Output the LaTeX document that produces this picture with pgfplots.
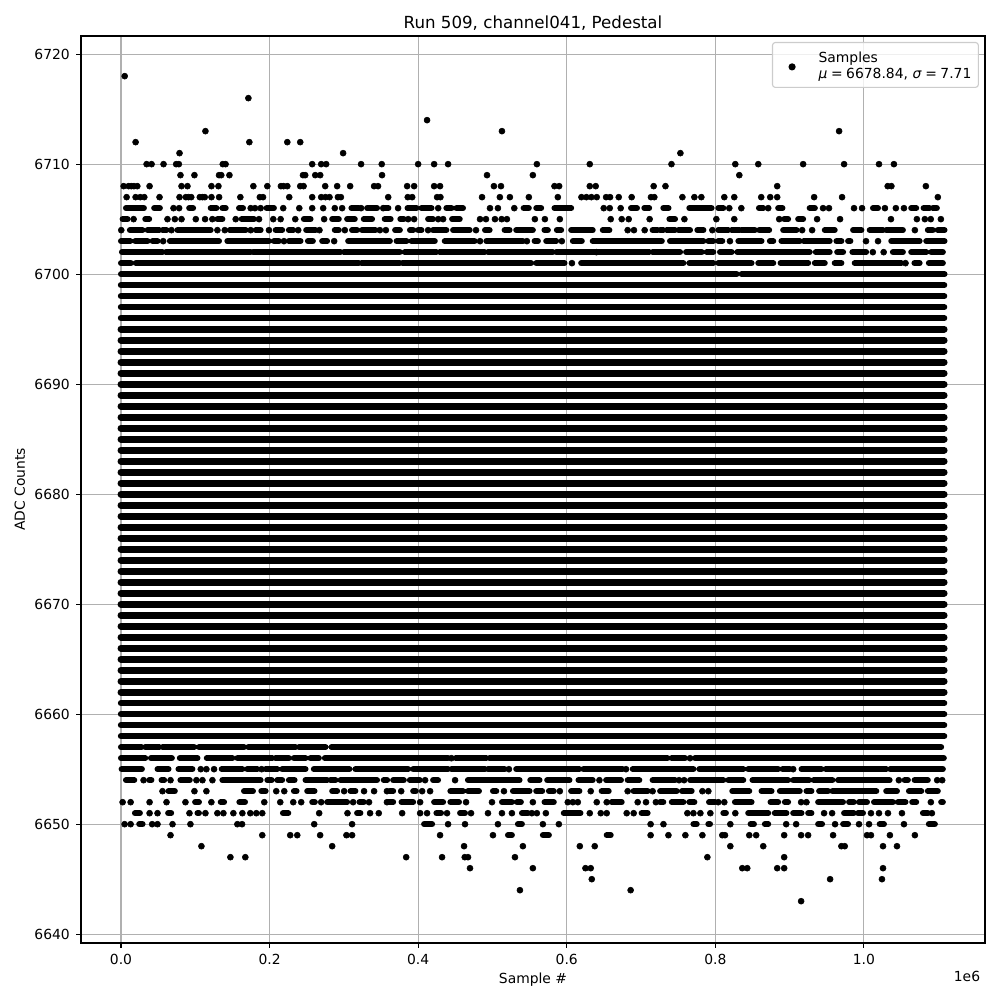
\documentclass[border=0pt]{standalone}
\usepackage{pgfplots}
\pgfplotsset{compat=1.18}
\usepackage{fontspec}
\setmainfont{DejaVu Sans}
\definecolor{gridc}{HTML}{B0B0B0}
\pgfplotsset{
  dots/.style={only marks,mark=*,mark size=2.16pt,black,mark options={draw=none,fill=black},forget plot},
  run/.style={black,line width=4.32pt,line cap=round,no marks,forget plot,unbounded coords=jump},
  edge/.style={run,line width=4.55pt},
  full/.style={run,line width=4.95pt}
}
\begin{document}
\begin{tikzpicture}
\path (-58.32pt,-41.04pt) rectangle (661.68pt,678.96pt);
\begin{axis}[
  at={(0,0)},anchor=south west,
  scale only axis,width=650.88pt,height=653.04pt,
  xmin=-53800,xmax=1163000,ymin=6639.2,ymax=6721.65,
  xtick={0,200000,400000,600000,800000,1000000},
  xticklabels={0.0,0.2,0.4,0.6,0.8,1.0},
  scaled x ticks=false,
  ytick={6640,6650,6660,6670,6680,6690,6700,6710,6720},
  /pgf/number format/.cd,1000 sep={},assume math mode=true,/pgfplots/.cd,
  xtick pos=bottom,ytick pos=left,tick align=outside,
  major tick length=3.5pt,
  tick style={black,line width=0.8pt},
  axis line style={line width=0.8pt},
  grid=major,grid style={gridc,line width=0.8pt},
  tick label style={font=\fontsize{10}{12}\selectfont},
  xticklabel style={yshift=-1pt},
  yticklabel style={xshift=-1pt},
  title={Run 509, channel041, Pedestal},
  title style={font=\fontsize{12}{14}\selectfont,yshift=-5.6pt},
  xlabel={Sample \#},ylabel={ADC Counts},
  xlabel style={yshift=0.7pt},
  label style={font=\fontsize{10}{12}\selectfont},
  legend cell align=left,
  legend image code/.code={\fill[black,fill opacity=1] (0cm,-1.4pt) circle (2.16pt);\path (-10.7pt,0pt) (16.7pt,0pt);},
  legend style={at={(1,1)},anchor=north east,xshift=-4.4pt,yshift=-4.3pt,
    draw=black!20,line width=0.8pt,fill=white,fill opacity=0.8,text opacity=1,
    rounded corners=2pt,font=\fontsize{10}{12}\selectfont,inner xsep=3pt,inner ysep=7.4pt},
  extra description/.code={\node[anchor=base east,font=\fontsize{10}{12}\selectfont,yshift=-27.4pt] at (1,0) {1e6};},
]
% --- isolated samples, upper tail
\addplot[only marks,mark=*,mark size=2.16pt,black,mark options={draw=none,fill=black}] coordinates {
(5e3,6718)(171.5e3,6716)(412e3,6714)(113.7e3,6713)(512.8e3,6713)(966.6e3,6713)
(19.7e3,6712)(172.8e3,6712)(223.9e3,6712)(241.3e3,6712)
(78.8e3,6711)(299e3,6711)(753e3,6711)
};
\addlegendentry{\raisebox{1.2pt}[12pt][12pt]{\begin{tabular}{@{}l@{}}Samples\\ \textit{μ}\hspace{-0.6pt} = \hspace{-0.6pt}6678.84, \textit{σ}\hspace{-0.6pt} = \hspace{-0.6pt}7.71\end{tabular}}}
\addplot[dots] coordinates {(34.5e3,6710)(41.2e3,6710)(57.3e3,6710)(74.3e3,6710)(77.9e3,6710)(137e3,6710)(140.8e3,6710)(257.4e3,6710)(269.5e3,6710)(276.2e3,6710)(323.2e3,6710)(351e3,6710)(400e3,6710)(421.5e3,6710)(440.3e3,6710)(559.8e3,6710)(631e3,6710)(741e3,6710)(826.9e3,6710)(857.8e3,6710)(918.2e3,6710)(973.3e3,6710)(1020.3e3,6710)(1040.4e3,6710)};
\addplot[dots] coordinates {(80.1e3,6709)(98.9e3,6709)(132e3,6709)(135e3,6709)(146e3,6709)(245e3,6709)(248e3,6709)(261.5e3,6709)(268.2e3,6709)(351.4e3,6709)(492.7e3,6709)(554.4e3,6709)(832.3e3,6709)};
\addplot[dots] coordinates {(3.6e3,6708)(10.3e3,6708)(13.9e3,6708)(17.5e3,6708)(22e3,6708)(38.5e3,6708)(81.5e3,6708)(89.5e3,6708)(121.8e3,6708)(131.2e3,6708)(178.2e3,6708)(197e3,6708)(215.3e3,6708)(218.9e3,6708)(223.9e3,6708)(241.3e3,6708)(245.8e3,6708)(274.9e3,6708)(291e3,6708)(308.5e3,6708)(340.7e3,6708)(346e3,6708)(385.2e3,6708)(394.6e3,6708)(421.5e3,6708)(429.5e3,6708)(502e3,6708)(511.5e3,6708)(583.5e3,6708)(589.8e3,6708)(631e3,6708)(639e3,6708)(717e3,6708)(732.9e3,6708)(883.3e3,6708)(1032e3,6708)(1037e3,6708)(1083.4e3,6708)};
\addplot[dots] coordinates {(7.6e3,6707)(19.7e3,6707)(26e3,6707)(31.4e3,6707)(51.9e3,6707)(78.8e3,6707)(87.3e3,6707)(90.9e3,6707)(94.6e3,6707)(106.1e3,6707)(109.7e3,6707)(112.8e3,6707)(121.8e3,6707)(132.1e3,6707)(160.7e3,6707)(186.9e3,6707)(191.2e3,6707)(226.5e3,6707)(257.4e3,6707)(269.5e3,6707)(275.3e3,6707)(280.7e3,6707)(292e3,6707)(296e3,6707)(359.7e3,6707)(386e3,6707)(392e3,6707)(425.5e3,6707)(430e3,6707)(486e3,6707)(510e3,6707)(523.5e3,6707)(549e3,6707)(588e3,6707)(619.8e3,6707)(626.5e3,6707)(633.2e3,6707)(640.4e3,6707)(653e3,6707)(658.3e3,6707)(670e3,6707)(687.4e3,6707)(713.4e3,6707)(717.9e3,6707)(755.7e3,6707)(771.8e3,6707)(781.2e3,6707)(812.1e3,6707)(825.5e3,6707)(861.8e3,6707)(873.9e3,6707)(883.3e3,6707)(933e3,6707)(970.6e3,6707)(1099.5e3,6707)};
\addplot[dots] coordinates {(70.7e3,6706)(78.3e3,6706)(174.6e3,6706)(180.4e3,6706)(188e3,6706)(218.4e3,6706)(240e3,6706)(257.4e3,6706)(272.2e3,6706)(287.8e3,6706)(297.7e3,6706)(323.2e3,6706)(353e3,6706)(373e3,6706)(427e3,6706)(496.7e3,6706)(507.4e3,6706)(529.4e3,6706)(649.8e3,6706)(657.9e3,6706)(672.6e3,6706)(818.8e3,6706)(835e3,6706)(871.2e3,6706)(945e3,6706)(953e3,6706)(986.7e3,6706)(997.5e3,6706)(1028.3e3,6706)(1043e3,6706)(1053.9e3,6706)};
\addplot[dots] coordinates {(17e3,6705)(62.6e3,6705)(72.5e3,6705)(81.5e3,6705)(100.7e3,6705)(113.2e3,6705)(123e3,6705)(154.4e3,6705)(185.8e3,6705)(205e3,6705)(214.9e3,6705)(234.6e3,6705)(273.5e3,6705)(386.6e3,6705)(394.6e3,6705)(427e3,6705)(433.6e3,6705)(483.3e3,6705)(491.3e3,6705)(503.4e3,6705)(512.4e3,6705)(519.5e3,6705)(557.1e3,6705)(570.6e3,6705)(590.7e3,6705)(659.2e3,6705)(674e3,6705)(683.4e3,6705)(711.6e3,6705)(758.4e3,6705)(801.4e3,6705)(825.5e3,6705)(886e3,6705)(937e3,6705)(967.9e3,6705)(1036.4e3,6705)(1071.3e3,6705)(1082e3,6705)(1090e3,6705)(1103.6e3,6705)};
\addplot[dots] coordinates {(0.4e3,6704)(68e3,6704)(129.8e3,6704)(139.7e3,6704)(174.6e3,6704)(199.2e3,6704)(238.6e3,6704)(267.2e3,6704)(301.3e3,6704)(348.5e3,6704)(356.6e3,6704)(413.4e3,6704)(477.9e3,6704)(682e3,6704)(690.5e3,6704)(704.9e3,6704)(796e3,6704)(916.9e3,6704)(930.3e3,6704)(1068.6e3,6704)};
\addplot[dots] coordinates {(56.8e3,6703)(219.4e3,6703)(287e3,6703)(483.3e3,6703)(546.4e3,6703)(593.4e3,6703)(819.7e3,6703)(1002.8e3,6703)(1019e3,6703)};
\addplot[dots] coordinates {(640e3,6702)(1012e3,6702)(1026.6e3,6702)};
\addplot[dots] coordinates {(607e3,6701)(1056e3,6701)};
% --- runs of adjacent samples, upper rows
\addplot[run] coordinates {(6.7e3,6706)(30.9e3,6706)(0,nan)(44.7e3,6706)(52.4e3,6706)(0,nan)(91.8e3,6706)(97.1e3,6706)(0,nan)(120.8e3,6706)(128.5e3,6706)(0,nan)(136.5e3,6706)(141e3,6706)(0,nan)(158.9e3,6706)(164.3e3,6706)(0,nan)(196e3,6706)(205.9e3,6706)(0,nan)(310.2e3,6706)(320e3,6706)(0,nan)(331.3e3,6706)(344.7e3,6706)(0,nan)(354e3,6706)(360e3,6706)(0,nan)(385.7e3,6706)(397.7e3,6706)(0,nan)(404.5e3,6706)(418e3,6706)(0,nan)(438e3,6706)(445e3,6706)(0,nan)(451.5e3,6706)(460.4e3,6706)(0,nan)(542e3,6706)(549e3,6706)(0,nan)(559e3,6706)(565.6e3,6706)(0,nan)(583.5e3,6706)(606e3,6706)(0,nan)(686.5e3,6706)(694.6e3,6706)(0,nan)(704.4e3,6706)(711e3,6706)(0,nan)(730e3,6706)(737e3,6706)(0,nan)(765e3,6706)(795e3,6706)(0,nan)(804e3,6706)(810.8e3,6706)(0,nan)(858.7e3,6706)(864.5e3,6706)(0,nan)(884.6e3,6706)(890.4e3,6706)(0,nan)(927e3,6706)(934e3,6706)(0,nan)(1012.2e3,6706)(1019e3,6706)(0,nan)(1063.7e3,6706)(1070.4e3,6706)(0,nan)(1080.3e3,6706)(1088.3e3,6706)(0,nan)(1092.8e3,6706)(1098.2e3,6706)};
\addplot[run] coordinates {(2.2e3,6705)(8.9e3,6705)(0,nan)(32.7e3,6705)(38e3,6705)(0,nan)(129.8e3,6705)(136.5e3,6705)(0,nan)(162.5e3,6705)(179e3,6705)(0,nan)(246.2e3,6705)(255.2e3,6705)(0,nan)(284.3e3,6705)(293.2e3,6705)(0,nan)(304.4e3,6705)(314.7e3,6705)(0,nan)(326.8e3,6705)(338e3,6705)(0,nan)(355e3,6705)(363e3,6705)(0,nan)(376e3,6705)(380.7e3,6705)(0,nan)(413.4e3,6705)(420e3,6705)(0,nan)(445.7e3,6705)(456e3,6705)(0,nan)(738.2e3,6705)(745.8e3,6705)(0,nan)(892.7e3,6705)(898e3,6705)(0,nan)(911.5e3,6705)(918.2e3,6705)};
\addplot[run] coordinates {(12e3,6704)(29e3,6704)(0,nan)(35.8e3,6704)(51.5e3,6704)(0,nan)(56e3,6704)(61.3e3,6704)(0,nan)(76e3,6704)(120.8e3,6704)(0,nan)(146.4e3,6704)(167.9e3,6704)(0,nan)(181.3e3,6704)(188e3,6704)(0,nan)(208.2e3,6704)(217e3,6704)(0,nan)(226e3,6704)(231.9e3,6704)(0,nan)(249.3e3,6704)(261.9e3,6704)(0,nan)(287.8e3,6704)(293.2e3,6704)(0,nan)(311e3,6704)(317.8e3,6704)(0,nan)(324.5e3,6704)(342.5e3,6704)(0,nan)(369e3,6704)(375.4e3,6704)(0,nan)(389e3,6704)(393.3e3,6704)(0,nan)(400e3,6704)(404.5e3,6704)(0,nan)(420e3,6704)(438e3,6704)(0,nan)(447e3,6704)(469.4e3,6704)(0,nan)(490e3,6704)(496.2e3,6704)(0,nan)(516.4e3,6704)(523.1e3,6704)(0,nan)(532e3,6704)(554.4e3,6704)(0,nan)(570e3,6704)(574.6e3,6704)(0,nan)(586.7e3,6704)(592.5e3,6704)(0,nan)(606e3,6704)(635e3,6704)(0,nan)(648.5e3,6704)(657.4e3,6704)(0,nan)(715.6e3,6704)(722.3e3,6704)(0,nan)(725.7e3,6704)(730e3,6704)(0,nan)(734.7e3,6704)(745.8e3,6704)(0,nan)(750.3e3,6704)(766e3,6704)(0,nan)(775.8e3,6704)(784e3,6704)(0,nan)(804e3,6704)(817.5e3,6704)(0,nan)(822e3,6704)(833e3,6704)(0,nan)(835.4e3,6704)(853.3e3,6704)(0,nan)(859e3,6704)(872.5e3,6704)(0,nan)(891.3e3,6704)(909.3e3,6704)(0,nan)(947.3e3,6704)(960.7e3,6704)(0,nan)(985.4e3,6704)(996.6e3,6704)(0,nan)(1007.8e3,6704)(1025.7e3,6704)(0,nan)(1030e3,6704)(1052.5e3,6704)(0,nan)(1086e3,6704)(1092.8e3,6704)(0,nan)(1099.5e3,6704)(1108.5e3,6704)};
\addplot[run] coordinates {(0,6703)(12.5e3,6703)(0,nan)(19.2e3,6703)(35.8e3,6703)(0,nan)(42.5e3,6703)(49.2e3,6703)(0,nan)(65.8e3,6703)(132e3,6703)(0,nan)(143.2e3,6703)(199.2e3,6703)(0,nan)(205.9e3,6703)(212.6e3,6703)(0,nan)(226e3,6703)(241.7e3,6703)(0,nan)(251.6e3,6703)(258.3e3,6703)(0,nan)(270.8e3,6703)(277.5e3,6703)(0,nan)(305.8e3,6703)(362e3,6703)(0,nan)(371e3,6703)(384.3e3,6703)(0,nan)(391e3,6703)(422.4e3,6703)(0,nan)(435.8e3,6703)(476e3,6703)(0,nan)(491.8e3,6703)(541e3,6703)(0,nan)(556.7e3,6703)(561.2e3,6703)(0,nan)(572.4e3,6703)(585.8e3,6703)(0,nan)(608.2e3,6703)(620.3e3,6703)(0,nan)(635e3,6703)(728e3,6703)(0,nan)(739e3,6703)(784e3,6703)(0,nan)(790.6e3,6703)(797.3e3,6703)(0,nan)(804e3,6703)(809.4e3,6703)(0,nan)(831e3,6703)(862.2e3,6703)(0,nan)(873.4e3,6703)(878e3,6703)(0,nan)(889e3,6703)(913.7e3,6703)(0,nan)(919e3,6703)(954e3,6703)(0,nan)(963e3,6703)(969.7e3,6703)(0,nan)(978.7e3,6703)(981.8e3,6703)(0,nan)(1036.8e3,6703)(1075e3,6703)(0,nan)(1083.9e3,6703)(1108.5e3,6703)};
\addplot[run] coordinates {(1.3e3,6702)(56e3,6702)(0,nan)(60.4e3,6702)(174.6e3,6702)(0,nan)(177.7e3,6702)(295.5e3,6702)(0,nan)(300e3,6702)(375.4e3,6702)(0,nan)(382e3,6702)(424.6e3,6702)(0,nan)(429e3,6702)(489.5e3,6702)(0,nan)(494e3,6702)(581.3e3,6702)(0,nan)(585.8e3,6702)(711e3,6702)(0,nan)(715.6e3,6702)(752.6e3,6702)(0,nan)(760.6e3,6702)(781.7e3,6702)(0,nan)(788.4e3,6702)(797.3e3,6702)(0,nan)(806.3e3,6702)(822e3,6702)(0,nan)(829.6e3,6702)(927e3,6702)(0,nan)(935.2e3,6702)(954e3,6702)(0,nan)(964e3,6702)(972e3,6702)(0,nan)(984.5e3,6702)(1003e3,6702)(0,nan)(1039e3,6702)(1052.5e3,6702)(0,nan)(1063.7e3,6702)(1083.9e3,6702)(0,nan)(1090.6e3,6702)(1106.3e3,6702)};
\addplot[run] coordinates {(0,6701)(13.4e3,6701)(0,nan)(20e3,6701)(320e3,6701)(0,nan)(323.7e3,6701)(375.4e3,6701)(0,nan)(379e3,6701)(552e3,6701)(0,nan)(559e3,6701)(597e3,6701)(0,nan)(619.4e3,6701)(757e3,6701)(0,nan)(765e3,6701)(797.3e3,6701)(0,nan)(804e3,6701)(848.8e3,6701)(0,nan)(857.8e3,6701)(878e3,6701)(0,nan)(887.8e3,6701)(925e3,6701)(0,nan)(933.9e3,6701)(947.3e3,6701)(0,nan)(960.7e3,6701)(969.7e3,6701)(0,nan)(987.6e3,6701)(1050.3e3,6701)(0,nan)(1068e3,6701)(1075e3,6701)(0,nan)(1087.4e3,6701)(1106.3e3,6701)};
\addplot[run] coordinates {(0,6700)(828.7e3,6700)(0,nan)(835.4e3,6700)(1108.5e3,6700)};
% --- solid rows
\addplot[edge] coordinates {(0,6699)(1108e3,6699)};
\addplot[edge] coordinates {(0,6698)(1108e3,6698)};
\addplot[edge] coordinates {(0,6697)(1108e3,6697)};
\addplot[edge] coordinates {(0,6696)(1108e3,6696)};
\addplot[full] coordinates {(0,6695)(1108e3,6695)};
\addplot[full] coordinates {(0,6694)(1108e3,6694)};
\addplot[full] coordinates {(0,6693)(1108e3,6693)};
\addplot[full] coordinates {(0,6692)(1108e3,6692)};
\addplot[full] coordinates {(0,6691)(1108e3,6691)};
\addplot[full] coordinates {(0,6690)(1108e3,6690)};
\addplot[full] coordinates {(0,6689)(1108e3,6689)};
\addplot[full] coordinates {(0,6688)(1108e3,6688)};
\addplot[full] coordinates {(0,6687)(1108e3,6687)};
\addplot[full] coordinates {(0,6686)(1108e3,6686)};
\addplot[full] coordinates {(0,6685)(1108e3,6685)};
\addplot[full] coordinates {(0,6684)(1108e3,6684)};
\addplot[full] coordinates {(0,6683)(1108e3,6683)};
\addplot[full] coordinates {(0,6682)(1108e3,6682)};
\addplot[full] coordinates {(0,6681)(1108e3,6681)};
\addplot[full] coordinates {(0,6680)(1108e3,6680)};
\addplot[full] coordinates {(0,6679)(1108e3,6679)};
\addplot[full] coordinates {(0,6678)(1108e3,6678)};
\addplot[full] coordinates {(0,6677)(1108e3,6677)};
\addplot[full] coordinates {(0,6676)(1108e3,6676)};
\addplot[full] coordinates {(0,6675)(1108e3,6675)};
\addplot[full] coordinates {(0,6674)(1108e3,6674)};
\addplot[full] coordinates {(0,6673)(1108e3,6673)};
\addplot[full] coordinates {(0,6672)(1108e3,6672)};
\addplot[full] coordinates {(0,6671)(1108e3,6671)};
\addplot[full] coordinates {(0,6670)(1108e3,6670)};
\addplot[full] coordinates {(0,6669)(1108e3,6669)};
\addplot[full] coordinates {(0,6668)(1108e3,6668)};
\addplot[full] coordinates {(0,6667)(1108e3,6667)};
\addplot[full] coordinates {(0,6666)(1108e3,6666)};
\addplot[full] coordinates {(0,6665)(1108e3,6665)};
\addplot[full] coordinates {(0,6664)(1108e3,6664)};
\addplot[full] coordinates {(0,6663)(1108e3,6663)};
\addplot[full] coordinates {(0,6662)(1108e3,6662)};
\addplot[edge] coordinates {(0,6661)(1108e3,6661)};
\addplot[edge] coordinates {(0,6660)(1108e3,6660)};
\addplot[edge] coordinates {(0,6659)(1108e3,6659)};
\addplot[edge] coordinates {(0,6658)(1108e3,6658)};
% --- lower rows
\addplot[run] coordinates {(0,6657)(27.7e3,6657)(0,nan)(32.7e3,6657)(51.5e3,6657)(0,nan)(56e3,6657)(98.5e3,6657)(0,nan)(105e3,6657)(165.6e3,6657)(0,nan)(171.4e3,6657)(235e3,6657)(0,nan)(239.5e3,6657)(275.3e3,6657)(0,nan)(283.4e3,6657)(1104e3,6657)};
\addplot[run] coordinates {(0,6656)(32.7e3,6656)(0,nan)(40.3e3,6656)(68.5e3,6656)(0,nan)(79.2e3,6656)(103e3,6656)(0,nan)(115.5e3,6656)(150e3,6656)(0,nan)(156.7e3,6656)(203.7e3,6656)(0,nan)(208e3,6656)(226e3,6656)(0,nan)(232.8e3,6656)(248.4e3,6656)(0,nan)(255e3,6656)(266.4e3,6656)(0,nan)(274.4e3,6656)(440.3e3,6656)(0,nan)(450.6e3,6656)(491.8e3,6656)(0,nan)(496e3,6656)(735.5e3,6656)(0,nan)(741.4e3,6656)(759.3e3,6656)(0,nan)(772.7e3,6656)(1107.6e3,6656)};
\addplot[run] coordinates {(0.9e3,6655)(28.2e3,6655)(0,nan)(49.2e3,6655)(64e3,6655)(0,nan)(77.4e3,6655)(96.2e3,6655)(0,nan)(135.6e3,6655)(163.4e3,6655)(0,nan)(170e3,6655)(183.5e3,6655)(0,nan)(194.7e3,6655)(210.4e3,6655)(0,nan)(217e3,6655)(248.4e3,6655)(0,nan)(259.6e3,6655)(307.5e3,6655)(0,nan)(315.6e3,6655)(386.6e3,6655)(0,nan)(393.3e3,6655)(440.3e3,6655)(0,nan)(444.8e3,6655)(490e3,6655)(0,nan)(494e3,6655)(516.4e3,6655)(0,nan)(532e3,6655)(617e3,6655)(0,nan)(622.5e3,6655)(675e3,6655)(0,nan)(688.8e3,6655)(770.5e3,6655)(0,nan)(778.5e3,6655)(837.6e3,6655)(0,nan)(844.3e3,6655)(884.6e3,6655)(0,nan)(890.5e3,6655)(900.3e3,6655)(0,nan)(916e3,6655)(942.8e3,6655)(0,nan)(948.7e3,6655)(1030e3,6655)(0,nan)(1035.5e3,6655)(1106.3e3,6655)};
\addplot[dots] coordinates {(107.4e3,6655)(115e3,6655)(125.3e3,6655)(189.3e3,6655)(522.2e3,6655)(679.8e3,6655)(904.8e3,6655)(766e3,6656)(444.8e3,6656)};
\addplot[run] coordinates {(6.7e3,6654)(17.9e3,6654)(0,nan)(38e3,6654)(41e3,6654)(0,nan)(54.6e3,6654)(58.2e3,6654)(0,nan)(80e3,6654)(92.6e3,6654)(0,nan)(136.5e3,6654)(188e3,6654)(0,nan)(197e3,6654)(202.8e3,6654)(0,nan)(210.4e3,6654)(217e3,6654)(0,nan)(226e3,6654)(233.7e3,6654)(0,nan)(248.4e3,6654)(277.5e3,6654)(0,nan)(282e3,6654)(288.7e3,6654)(0,nan)(295.5e3,6654)(344.7e3,6654)(0,nan)(353.7e3,6654)(358.3e3,6654)(0,nan)(366.4e3,6654)(380.7e3,6654)(0,nan)(388.8e3,6654)(402.2e3,6654)(0,nan)(420.1e3,6654)(426.8e3,6654)(0,nan)(467e3,6654)(536.5e3,6654)(0,nan)(550.9e3,6654)(563.4e3,6654)(0,nan)(573.7e3,6654)(603.7e3,6654)(0,nan)(615.8e3,6654)(635e3,6654)(0,nan)(653e3,6654)(673e3,6654)(0,nan)(682e3,6654)(697.7e3,6654)(0,nan)(715.6e3,6654)(745.8e3,6654)(0,nan)(766e3,6654)(810.8e3,6654)(0,nan)(817.5e3,6654)(837.6e3,6654)(0,nan)(850e3,6654)(898e3,6654)(0,nan)(904.8e3,6654)(926.3e3,6654)(0,nan)(932.5e3,6654)(957.6e3,6654)(0,nan)(965.2e3,6654)(1034.6e3,6654)(0,nan)(1054.8e3,6654)(1059.2e3,6654)(0,nan)(1068.2e3,6654)(1086e3,6654)};
\addplot[dots] coordinates {(30.4e3,6654)(66.7e3,6654)(101.6e3,6654)(109.7e3,6654)(123.1e3,6654)(409.4e3,6654)(449.7e3,6654)(644e3,6654)(751.2e3,6654)(758e3,6654)(1047e3,6654)(1098.6e3,6654)(1105.4e3,6654)};
\addplot[run] coordinates {(64e3,6653)(72.5e3,6653)(0,nan)(165.6e3,6653)(177.7e3,6653)(0,nan)(188.9e3,6653)(194.7e3,6653)(0,nan)(232.8e3,6653)(236.4e3,6653)(0,nan)(250.7e3,6653)(260.5e3,6653)(0,nan)(284.3e3,6653)(291e3,6653)(0,nan)(308.9e3,6653)(315.6e3,6653)(0,nan)(361.9e3,6653)(366.4e3,6653)(0,nan)(393.3e3,6653)(396.9e3,6653)(0,nan)(443.4e3,6653)(460.4e3,6653)(0,nan)(467.1e3,6653)(481.9e3,6653)(0,nan)(500.7e3,6653)(505.2e3,6653)(0,nan)(527.6e3,6653)(550e3,6653)(0,nan)(558.9e3,6653)(567e3,6653)(0,nan)(576e3,6653)(582.6e3,6653)(0,nan)(605.9e3,6653)(617.1e3,6653)(0,nan)(647e3,6653)(656.5e3,6653)(0,nan)(690e3,6653)(708.9e3,6653)(0,nan)(725.7e3,6653)(748e3,6653)(0,nan)(755.2e3,6653)(768.2e3,6653)(0,nan)(822.8e3,6653)(845.7e3,6653)(0,nan)(862.2e3,6653)(875.7e3,6653)(0,nan)(886.9e3,6653)(913.7e3,6653)(0,nan)(922.7e3,6653)(929.4e3,6653)(0,nan)(939.7e3,6653)(951.8e3,6653)(0,nan)(957.6e3,6653)(1016.7e3,6653)(0,nan)(1030e3,6653)(1044.5e3,6653)(0,nan)(1060.6e3,6653)(1077.2e3,6653)(0,nan)(1086e3,6653)(1099.5e3,6653)};
\addplot[dots] coordinates {(55.9e3,6653)(98.9e3,6653)(115e3,6653)(209e3,6653)(219.8e3,6653)(300.4e3,6653)(327.2e3,6653)(340.7e3,6653)(358e3,6653)(377.2e3,6653)(405.4e3,6653)(416.1e3,6653)(515.5e3,6653)(590.7e3,6653)(632.3e3,6653)(682e3,6653)(715.6e3,6653)(782.6e3,6653)(790.6e3,6653)};
\addplot[run] coordinates {(99.8e3,6652)(105e3,6652)(0,nan)(134.3e3,6652)(138.8e3,6652)(0,nan)(159.4e3,6652)(167e3,6652)(0,nan)(257.4e3,6652)(261e3,6652)(0,nan)(277.5e3,6652)(304.4e3,6652)(0,nan)(321e3,6652)(326.8e3,6652)(0,nan)(359.7e3,6652)(366.4e3,6652)(0,nan)(377.6e3,6652)(393.3e3,6652)(0,nan)(421.5e3,6652)(433.6e3,6652)(0,nan)(443.4e3,6652)(455e3,6652)(0,nan)(512.8e3,6652)(526.2e3,6652)(0,nan)(533e3,6652)(538.3e3,6652)(0,nan)(570.1e3,6652)(582.6e3,6652)(0,nan)(660.5e3,6652)(674e3,6652)(0,nan)(725.7e3,6652)(730e3,6652)(0,nan)(741.4e3,6652)(757e3,6652)(0,nan)(765e3,6652)(771.8e3,6652)(0,nan)(791.5e3,6652)(799.6e3,6652)(0,nan)(826.4e3,6652)(848.8e3,6652)(0,nan)(874.3e3,6652)(884.6e3,6652)(0,nan)(893.6e3,6652)(898e3,6652)(0,nan)(938.4e3,6652)(971.9e3,6652)(0,nan)(980e3,6652)(986.3e3,6652)(0,nan)(993.4e3,6652)(1004.2e3,6652)(0,nan)(1013.6e3,6652)(1039e3,6652)(0,nan)(1045.8e3,6652)(1056e3,6652)(0,nan)(1065e3,6652)(1070.4e3,6652)(0,nan)(1104e3,6652)(1106.3e3,6652)};
\addplot[dots] coordinates {(2.2e3,6652)(13e3,6652)(38.5e3,6652)(61.3e3,6652)(86.8e3,6652)(121.7e3,6652)(192.9e3,6652)(214.4e3,6652)(231.9e3,6652)(242.6e3,6652)(269.5e3,6652)(312.5e3,6652)(333.9e3,6652)(358e3,6652)(402.7e3,6652)(464.5e3,6652)(499.4e3,6652)(554.4e3,6652)(601.4e3,6652)(608.2e3,6652)(614.9e3,6652)(640.4e3,6652)(653.8e3,6652)(695.5e3,6652)(706.7e3,6652)(720e3,6652)(804e3,6652)(812.1e3,6652)(915.5e3,6652)(922.7e3,6652)(1090.1e3,6652)};
\addplot[run] coordinates {(18.8e3,6651)(25.5e3,6651)(0,nan)(63.5e3,6651)(67.6e3,6651)(0,nan)(103e3,6651)(105e3,6651)(0,nan)(218e3,6651)(225.2e3,6651)(0,nan)(317.8e3,6651)(322.3e3,6651)(0,nan)(424.6e3,6651)(430.9e3,6651)(0,nan)(456.4e3,6651)(463.1e3,6651)(0,nan)(539.7e3,6651)(547.7e3,6651)(0,nan)(596e3,6651)(618.5e3,6651)(0,nan)(700.8e3,6651)(708.9e3,6651)(0,nan)(810.8e3,6651)(814.3e3,6651)(0,nan)(844.3e3,6651)(871.2e3,6651)(0,nan)(880e3,6651)(895.8e3,6651)(0,nan)(904.8e3,6651)(916e3,6651)(0,nan)(925e3,6651)(929.4e3,6651)(0,nan)(973.3e3,6651)(986.3e3,6651)(0,nan)(992e3,6651)(998.8e3,6651)(0,nan)(1079.4e3,6651)(1086.1e3,6651)};
\addplot[dots] coordinates {(38.5e3,6651)(49.2e3,6651)(92.2e3,6651)(113.7e3,6651)(129.8e3,6651)(137.9e3,6651)(151.3e3,6651)(163.4e3,6651)(174.1e3,6651)(182.2e3,6651)(190.2e3,6651)(266.8e3,6651)(304.9e3,6651)(335.3e3,6651)(347e3,6651)(378.5e3,6651)(402.7e3,6651)(412e3,6651)(438.9e3,6651)(471.2e3,6651)(494e3,6651)(512.8e3,6651)(526.2e3,6651)(553e3,6651)(559.8e3,6651)(571.9e3,6651)(631e3,6651)(645.8e3,6651)(653.8e3,6651)(680.7e3,6651)(690.1e3,6651)(762.4e3,6651)(770.5e3,6651)(779.9e3,6651)(793.3e3,6651)(826.9e3,6651)(946.4e3,6651)(957.2e3,6651)(1009.5e3,6651)(1020.3e3,6651)(1032.4e3,6651)(1051.2e3,6651)(1091.5e3,6651)};
\addplot[run] coordinates {(24.6e3,6650)(29.1e3,6650)(0,nan)(408e3,6650)(418.8e3,6650)(0,nan)(534.3e3,6650)(539.7e3,6650)(0,nan)(770.5e3,6650)(775e3,6650)(0,nan)(790.6e3,6650)(792.9e3,6650)(0,nan)(847.5e3,6650)(852e3,6650)(0,nan)(866.7e3,6650)(871.2e3,6650)(0,nan)(938.4e3,6650)(943.7e3,6650)(0,nan)(972e3,6650)(978.7e3,6650)(0,nan)(1021.2e3,6650)(1027e3,6650)(0,nan)(1087.4e3,6650)(1095.5e3,6650)};
\addplot[dots] coordinates {(4.9e3,6650)(13e3,6650)(42e3,6650)(49.2e3,6650)(69.4e3,6650)(93.5e3,6650)(156.7e3,6650)(163e3,6650)(260.1e3,6650)(311.1e3,6650)(440.3e3,6650)(463.1e3,6650)(507.4e3,6650)(567.9e3,6650)(589.4e3,6650)(712.9e3,6650)(730.2e3,6650)(820.2e3,6650)(895.4e3,6650)(908.8e3,6650)(961.2e3,6650)(993.4e3,6650)(1006.9e3,6650)(1053.9e3,6650)};
\addplot[run] coordinates {(520.9e3,6649)(526.2e3,6649)(0,nan)(567.9e3,6649)(576e3,6649)(0,nan)(653.8e3,6649)(659.2e3,6649)};
\addplot[dots] coordinates {(66.7e3,6649)(190.2e3,6649)(227.8e3,6649)(237.3e3,6649)(268.1e3,6649)(303.5e3,6649)(311.1e3,6649)(429.5e3,6649)(500.7e3,6649)(712.9e3,6649)(736.9e3,6649)(759.7e3,6649)(782.6e3,6649)(809.4e3,6649)(813e3,6649)(845.7e3,6649)(855e3,6649)(892.7e3,6649)(915.5e3,6649)(924.9e3,6649)(958.5e3,6649)(1004.2e3,6649)(1009.5e3,6649)(1035e3,6649)(1068.6e3,6649)};
\addplot[dots] coordinates {(108.3e3,6648)(284.3e3,6648)(461.8e3,6648)(541e3,6648)(617.6e3,6648)(637.7e3,6648)(820.2e3,6648)(864.5e3,6648)(969.7e3,6648)(974.2e3,6648)(1025.7e3,6648)(1044.5e3,6648)};
\addplot[dots] coordinates {(147.3e3,6647)(167.4e3,6647)(383.9e3,6647)(432.2e3,6647)(462.7e3,6647)(467.1e3,6647)(530.3e3,6647)(789.3e3,6647)(892.7e3,6647)};
\addplot[dots] coordinates {(469.8e3,6646)(554.4e3,6646)(625.2e3,6646)(632.3e3,6646)(836.3e3,6646)(843e3,6646)(883.3e3,6646)(892.7e3,6646)(1025.7e3,6646)};
\addplot[dots] coordinates {(633.7e3,6645)(954.5e3,6645)(1024.3e3,6645)};
\addplot[dots] coordinates {(537e3,6644)(686e3,6644)};
\addplot[dots] coordinates {(915.5e3,6643)};
\end{axis}
\end{tikzpicture}
\end{document}
